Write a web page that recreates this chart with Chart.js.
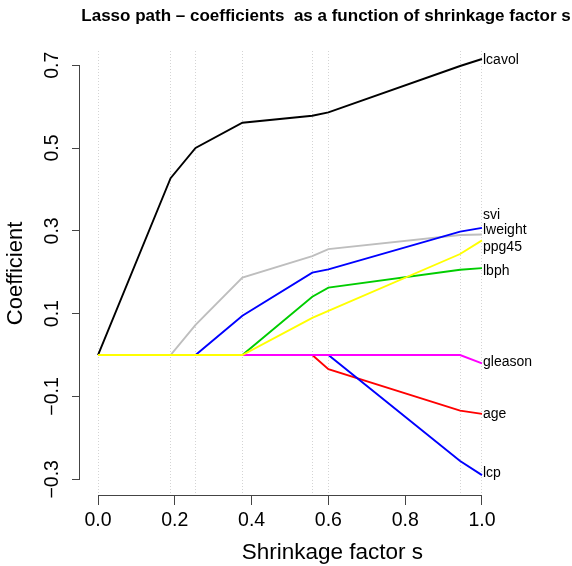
<!DOCTYPE html>
<html>
<head>
<meta charset="utf-8">
<script src="https://cdn.jsdelivr.net/npm/chart.js@4/dist/chart.umd.min.js"></script>
<style>
  body { margin: 0; background: #ffffff; }
  canvas { display: block; }
</style>
</head>
<body>
<canvas id="lasso_canvas" width="572" height="566"></canvas>
<script>
// Breakpoints of the lasso path (shrinkage factor s).
const shrinkage = [0, 0.189, 0.254, 0.376, 0.558, 0.600, 0.943, 1.0];

// Coefficient of each variable at every breakpoint.
const lcavol  = [0, 0.427, 0.500, 0.561, 0.578, 0.586, 0.698, 0.715];
const lweight = [0, 0, 0.073, 0.187, 0.239, 0.256, 0.290, 0.291];
const age     = [0, 0, 0, 0, 0, -0.034, -0.134, -0.142];
const lbph    = [0, 0, 0, 0, 0.141, 0.163, 0.206, 0.210];
const svi     = [0, 0, 0, 0.095, 0.199, 0.207, 0.298, 0.307];
const lcp     = [0, 0, 0, 0, 0, 0, -0.256, -0.290];
const gleason = [0, 0, 0, 0, 0, 0, 0, -0.020];
const pgg45   = [0, 0, 0, 0, 0.090, 0.107, 0.244, 0.277];

const var_names = ['lcavol', 'lweight', 'age', 'lbph', 'svi', 'lcp', 'gleason', 'ppg45'];
const var_values = [lcavol, lweight, age, lbph, svi, lcp, gleason, pgg45];
const var_colors = ['#000000', '#bebebe', '#ff0000', '#00cd00', '#0000ff', '#0000ff', '#ff00ff', '#ffff00'];
// Where each name sits on the coefficient scale (some nudged apart in the original).
const label_coef = [0.713, 0.302, -0.143, 0.203, 0.337, -0.2855, -0.016, 0.260];

const x_ticks = [0, 0.2, 0.4, 0.6, 0.8, 1.0];
const y_ticks = [-0.3, -0.1, 0.1, 0.3, 0.5, 0.7];

const FONT = 'Liberation Sans, Arial, Helvetica, sans-serif';

function fmt_tick(v) {
  return Number(v).toFixed(1).replace('-', '\u2212');
}

function make_datasets() {
  // R draws the last column on top; Chart.js draws index 0 on top.
  const sets = [];
  for (let i = var_names.length - 1; i >= 0; i--) {
    sets.push({
      label: var_names[i],
      data: shrinkage.map((s, j) => ({x: s, y: var_values[i][j]})),
      borderColor: var_colors[i],
      borderWidth: 1.9,
      pointRadius: 0,
      tension: 0,
      fill: false
    });
  }
  return sets;
}

// Axis lines only run from the first to the last tick, like base R.
const axis_lines = {
  id: 'axis_lines',
  afterDraw(chart) {
    const ctx = chart.ctx;
    const xs = chart.scales.x;
    const ys = chart.scales.y;
    const area = chart.chartArea;
    ctx.save();
    ctx.strokeStyle = '#444444';
    ctx.lineWidth = 1;
    ctx.beginPath();
    ctx.moveTo(xs.getPixelForValue(x_ticks[0]), area.bottom - 0.5);
    ctx.lineTo(xs.getPixelForValue(x_ticks[x_ticks.length - 1]), area.bottom - 0.5);
    ctx.moveTo(area.left - 0.5, ys.getPixelForValue(y_ticks[0]));
    ctx.lineTo(area.left - 0.5, ys.getPixelForValue(y_ticks[y_ticks.length - 1]));
    ctx.stroke();

    // x axis title, centred a little right of the tick range as in the original
    ctx.font = '22.5px ' + FONT;
    ctx.fillStyle = '#000000';
    ctx.textAlign = 'center';
    ctx.textBaseline = 'middle';
    ctx.fillText('Shrinkage factor s', xs.getPixelForValue(0.6) + 4, 553);
    ctx.restore();
  }
};

// Variable names at the right end of the paths.
const path_labels = {
  id: 'path_labels',
  afterDraw(chart) {
    const ctx = chart.ctx;
    const xs = chart.scales.x;
    const ys = chart.scales.y;
    ctx.save();
    ctx.font = '14px ' + FONT;
    ctx.fillStyle = '#000000';
    ctx.textAlign = 'left';
    ctx.textBaseline = 'middle';
    const x = xs.getPixelForValue(shrinkage[shrinkage.length - 1]) + 1;
    for (let i = 0; i < var_names.length; i++) {
      ctx.fillText(var_names[i], x, ys.getPixelForValue(label_coef[i]));
    }
    ctx.restore();
  }
};

new Chart(document.getElementById('lasso_canvas'), {
  type: 'line',
  data: { datasets: make_datasets() },
  options: {
    responsive: false,
    animation: false,
    events: [],
    layout: { padding: 0 },
    plugins: {
      legend: { display: false },
      tooltip: { enabled: false },
      title: {
        display: true,
        fullSize: false,
        text: 'Lasso path \u2013 coefficients  as a function of shrinkage factor s',
        color: '#000000',
        font: { family: FONT, size: 17, weight: 'bold', lineHeight: 1.2 },
        padding: { top: 6, bottom: 24.5 }
      }
    },
    scales: {
      x: {
        type: 'linear',
        position: 'bottom',
        min: -0.0469,
        max: 1.2344,
        afterBuildTicks: (scale) => { scale.ticks = x_ticks.map(v => ({value: v})); },
        afterFit: (scale) => { scale.height = 70; },
        ticks: {
          autoSkip: false,
          maxRotation: 0,
          padding: 3.6,
          color: '#000000',
          font: { family: FONT, size: 19.5 },
          callback: (v) => fmt_tick(v)
        },
        grid: { drawOnChartArea: false, drawTicks: true, tickLength: 9, color: '#444444' },
        border: { display: false }
      },
      xb: {
        type: 'linear',
        position: 'top',
        min: -0.0469,
        max: 1.2344,
        afterBuildTicks: (scale) => { scale.ticks = shrinkage.map(v => ({value: v})); },
        afterFit: (scale) => { scale.height = 0; },
        ticks: { display: false },
        grid: { drawOnChartArea: true, drawTicks: false, color: '#d4d4d4', lineWidth: 1 },
        border: { display: false, dash: [1, 2] }
      },
      y: {
        type: 'linear',
        position: 'left',
        min: -0.3403,
        max: 0.7345,
        afterBuildTicks: (scale) => { scale.ticks = y_ticks.map(v => ({value: v})); },
        afterFit: (scale) => { scale.width = 80; },
        ticks: {
          minRotation: 90,
          maxRotation: 90,
          crossAlign: 'center',
          padding: 0,
          color: '#000000',
          font: { family: FONT, size: 19.5 },
          callback: (v) => fmt_tick(v)
        },
        grid: { drawOnChartArea: false, drawTicks: true, tickLength: 8, color: '#444444' },
        border: { display: false },
        title: {
          display: true,
          text: 'Coefficient',
          color: '#000000',
          font: { family: FONT, size: 22 },
          padding: { top: 3, bottom: 0 }
        }
      }
    }
  },
  plugins: [axis_lines, path_labels]
});
</script>
</body>
</html>
